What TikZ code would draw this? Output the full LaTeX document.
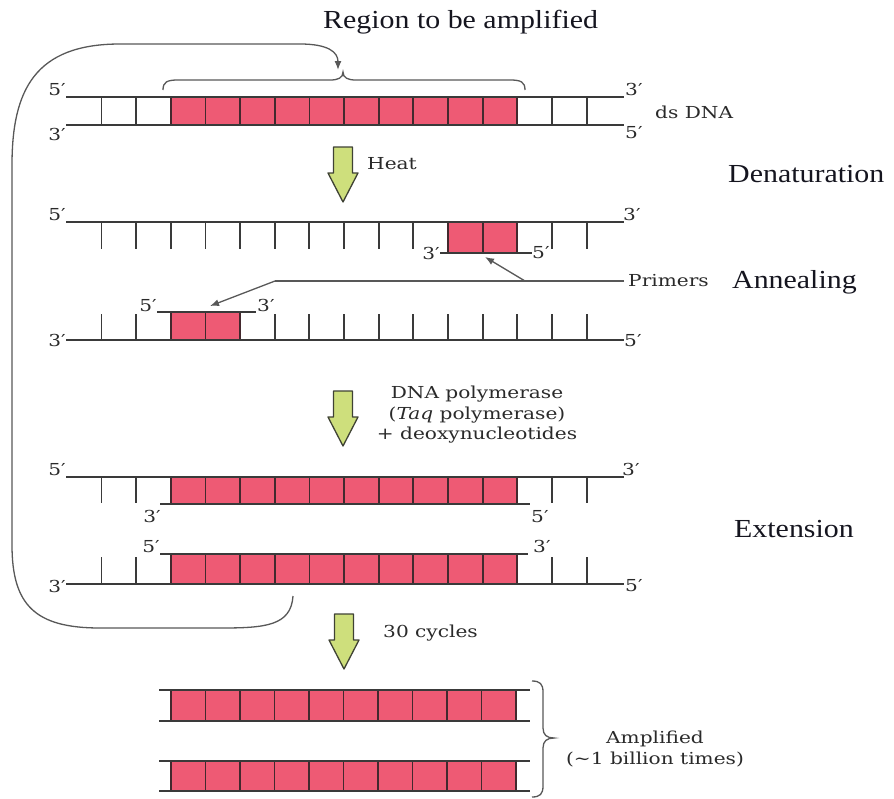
\documentclass[tikz,border=0pt]{standalone}
\usepackage{fontspec}
\setmainfont{DejaVu Serif}[FakeStretch=1.22]
\newfontfamily\headfont{Liberation Serif}[FakeStretch=1.15]
\usetikzlibrary{arrows.meta}
\definecolor{pinkc}{HTML}{EE5A74}
\definecolor{strand}{HTML}{3A3A3A}
\definecolor{txtc}{HTML}{2A2A2A}
\definecolor{cellline}{HTML}{43292E}
\definecolor{garrowfill}{HTML}{CEDF7C}
\definecolor{garrowdraw}{HTML}{3F4234}
\definecolor{headc}{HTML}{15151F}
\begin{document}
\begin{tikzpicture}[x=1pt,y=-1pt,
  strandline/.style={draw=strand,line width=1.9pt},
  rung/.style={draw=strand,line width=1.9pt},
  cell/.style={fill=pinkc,draw=cellline,line width=1.8pt},
  lbl/.style={font=\fontsize{16.5}{20.5}\selectfont,text=txtc,inner sep=0pt},
  head/.style={font=\headfont\fontsize{26}{30}\selectfont,text=headc,inner sep=0pt},
  callout/.style={draw=strand!85,line width=1.3pt},
  tipped/.style={-{Latex[length=9pt,width=7pt]}},
  bracel/.style={draw=strand!85,line width=1.3pt},
  garrow/.pic={\draw[fill=garrowfill,draw=garrowdraw,line width=1.3pt,line join=round]
     (-9.5,0) -- (9.5,0) -- (9.5,26) -- (15,26) -- (0,55) -- (-15,26) -- (-9.5,26) -- cycle;}
  ]
\useasboundingbox (0,0) rectangle (894,798);

% ---------- Row 1: ds DNA ----------
\foreach \k in {2,...,11}
  \draw[cell] ({101.5+34.65*\k},97) rectangle ({101.5+34.65*(\k+1)},125);
\foreach \k in {0,1,13,14}
  \draw[rung] ({101.5+34.65*\k},97) -- ({101.5+34.65*\k},125);
\draw[strandline] (66,97) -- (624,97);
\draw[strandline] (66,125) -- (624,125);
\node[lbl,anchor=base east] (r1a) at (66,95) {5′};
\node[lbl,anchor=north east] (r1b) at (66,128) {3′};
\node[lbl,anchor=base west] (r1c) at (625,95) {3′};
\node[lbl,anchor=north west] (r1d) at (625,126) {5′};
\node[lbl,anchor=base west] (ds) at (655,118) {ds DNA};

% brace over region
\draw[bracel] (163,90) .. controls (163,82) and (167,80) .. (178,80) -- (330,80)
   .. controls (338,80) and (343,78) .. (343,72)
   .. controls (343,78) and (348,80) .. (356,80) -- (510,80)
   .. controls (521,80) and (525,82) .. (525,90);
\node[head,anchor=base west] (title) at (323,28) {Region to be amplified};

% ---------- Heat arrow ----------
\pic at (343,147) {garrow};
\node[lbl,anchor=base west] (heat) at (367,169) {Heat};
\node[head,anchor=base west] (denat) at (728,182) {Denaturation};

% ---------- Row 2: top strand + primer ----------
\foreach \k in {10,11}
  \draw[cell] ({101.5+34.65*\k},222) rectangle ({101.5+34.65*(\k+1)},253);
\foreach \k in {0,...,9,13,14}
  \draw[rung] ({101.5+34.65*\k},222) -- ({101.5+34.65*\k},249);
\draw[strandline] (66,222) -- (624,222);
\draw[strandline] (440,253) -- (532,253);
\node[lbl,anchor=base east] (r2a) at (66,220) {5′};
\node[lbl,anchor=base west] (r2b) at (623,220) {3′};
\node[lbl,anchor=east] (r2c) at (440,253) {3′};
\node[lbl,anchor=west] (r2d) at (532,253) {5′};

% ---------- Row 3: bottom strand + primer ----------
\foreach \k in {2,3}
  \draw[cell] ({101.5+34.65*\k},312) rectangle ({101.5+34.65*(\k+1)},340);
\foreach \k in {0,1,5,6,...,14}
  \draw[rung] ({101.5+34.65*\k},314) -- ({101.5+34.65*\k},340);
\draw[strandline] (66,340) -- (624,340);
\draw[strandline] (157,312) -- (256,312);
\node[lbl,anchor=base east] (r3a) at (157,311) {5′};
\node[lbl,anchor=base west] (r3b) at (257,311) {3′};
\node[lbl,anchor=east] (r3c) at (66,340) {3′};
\node[lbl,anchor=west] (r3d) at (624,341) {5′};

% primers callout
\node[lbl,anchor=west] (prim) at (628,281) {Primers};
\coordinate (pj) at (275,281);
\coordinate (pt1) at (210,306);
\coordinate (pb) at (525,281);
\coordinate (pt2) at (485,257);
\draw[callout] ([xshift=-4pt]prim.west) -- (pj);
\draw[callout,tipped] (pj) -- (pt1);
\draw[callout,tipped] (pb) -- (pt2);
\node[head,anchor=base west] (anneal) at (732,288) {Annealing};

% ---------- Polymerase arrow ----------
\pic at (343,391) {garrow};
\node[lbl,align=center] (poly) at (477,415) {DNA polymerase\\(\textit{Taq} polymerase)\\+ deoxynucleotides};

% ---------- Row 4 ----------
\foreach \k in {2,...,11}
  \draw[cell] ({101.5+34.65*\k},477) rectangle ({101.5+34.65*(\k+1)},504);
\foreach \k in {0,1,13,14}
  \draw[rung] ({101.5+34.65*\k},477) -- ({101.5+34.65*\k},503);
\draw[strandline] (66,477) -- (624,477);
\draw[strandline] (160,504) -- (530,504);
\node[lbl,anchor=base east] (r4a) at (66,475) {5′};
\node[lbl,anchor=base west] (r4b) at (622,475) {3′};
\node[lbl,anchor=north east] (r4c) at (161,510) {3′};
\node[lbl,anchor=north west] (r4d) at (531,510) {5′};

% ---------- Row 5 ----------
\foreach \k in {2,...,11}
  \draw[cell] ({101.5+34.65*\k},554) rectangle ({101.5+34.65*(\k+1)},584);
\foreach \k in {0,1,13,14}
  \draw[rung] ({101.5+34.65*\k},557) -- ({101.5+34.65*\k},584);
\draw[strandline] (66,584) -- (624,584);
\draw[strandline] (160,554) -- (528,554);
\node[lbl,anchor=base east] (r5a) at (160,552) {5′};
\node[lbl,anchor=base west] (r5b) at (533,552) {3′};
\node[lbl,anchor=east] (r5c) at (66,586) {3′};
\node[lbl,anchor=west] (r5d) at (625,586) {5′};
\node[head,anchor=base west] (ext) at (734,537) {Extension};

% ---------- Recycle arrow ----------
\coordinate (cycS) at (293,596);
\coordinate (cycE) at (338,70);
\draw[callout,tipped] (cycS) .. controls (291,626) and (265,628) .. (220,628) -- (100,628)
   .. controls (35,628) and (12,605) .. (12,545) -- (12,165)
   .. controls (12,90) and (35,44) .. (120,44) -- (300,44)
   .. controls (328,44) and (338,52) .. (cycE);

% ---------- 30 cycles ----------
\pic at (344,614) {garrow};
\node[lbl,anchor=base west] (cyc) at (383,637) {30 cycles};

% ---------- Amplified ----------
\foreach \j in {0,...,9} {
  \draw[cell] ({171+34.5*\j},690) rectangle ({171+34.5*(\j+1)},721);
  \draw[cell] ({171+34.5*\j},761) rectangle ({171+34.5*(\j+1)},791);
}
\draw[strandline] (159,690) -- (530,690);
\draw[strandline] (159,721) -- (530,721);
\draw[strandline] (159,761) -- (530,761);
\draw[strandline] (159,791) -- (530,791);
\draw[bracel] (532,681) .. controls (540,681) and (543,684) .. (543,692) -- (543,728)
   .. controls (543,735) and (547,738) .. (554,738)
   .. controls (547,738) and (543,741) .. (543,748) -- (543,786)
   .. controls (543,794) and (540,797) .. (532,797);
\node[lbl,align=center] (amp) at (655,749) {Amplified\\(\textasciitilde1 billion times)};
\end{tikzpicture}
\end{document}
